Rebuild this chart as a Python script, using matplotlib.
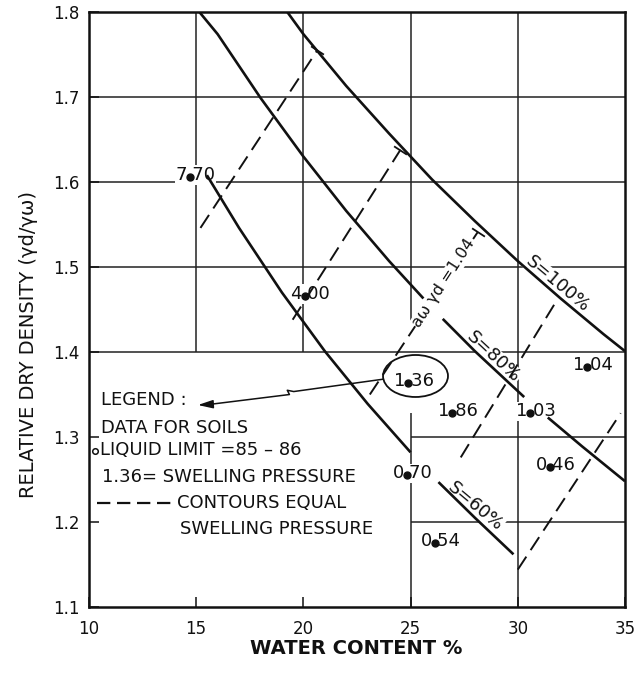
import math
import matplotlib
matplotlib.use('Agg')
import matplotlib.pyplot as plt
from matplotlib.patches import Ellipse

plt.rcParams['font.family'] = ['DejaVu Sans']

# ---------------- data ----------------
x_ticks = [10, 15, 20, 25, 30, 35]
y_ticks = [1.1, 1.2, 1.3, 1.4, 1.5, 1.6, 1.7, 1.8]
y_tick_labels = ['1.1', '1.2', '1.3', '1.4', '1.5', '1.6', '1.7', '1.8']

# saturation curves (water content %, relative dry density)
s100_w = [19.25, 20, 22, 24, 26, 28, 30, 32, 34, 35]
s100_g = [1.800, 1.774, 1.713, 1.657, 1.603, 1.554, 1.507, 1.463, 1.421, 1.401]

s80a_w = [15.15, 16, 18, 20, 22, 24, 25.6]
s80a_g = [1.800, 1.774, 1.699, 1.630, 1.566, 1.507, 1.463]
s80b_w = [26.5, 28, 30.3]
s80b_g = [1.439, 1.401, 1.347]
s80c_w = [31.4, 33, 35]
s80c_g = [1.323, 1.289, 1.248]

s60a_w = [15.5, 17, 19, 21, 23, 25]
s60a_g = [1.608, 1.546, 1.470, 1.401, 1.339, 1.282]
s60b_w = [26.3, 28, 29.8]
s60b_g = [1.247, 1.205, 1.162]

# contours of equal swelling pressure (dashed)
c1_w = [15.2, 20.65];  c1_g = [1.546, 1.755]
c2_w = [19.5, 24.53];  c2_g = [1.438, 1.638]
c3_w = [23.1, 28.13];  c3_g = [1.350, 1.541]
c4_w = [27.34, 31.85]; c4_g = [1.276, 1.462]
c5_w = [30.0, 34.8];   c5_g = [1.144, 1.328]

# measured soils: swelling pressure labels
pt_w = [14.71, 20.07, 24.88, 26.93, 30.57, 33.23, 31.50, 24.83, 26.14]
pt_g = [1.606, 1.466, 1.364, 1.328, 1.328, 1.382, 1.265, 1.255, 1.175]
pt_lbl = ['7.70', '4.00', '1.36', '1.86', '1.03', '1.04', '0.46', '0.70', '0.54']

# grid layout
h_full = [1.4, 1.5, 1.6, 1.7]
h_part = [1.2, 1.3]
v_upper = [15, 20]
v_full = [30]

INK = '#111111'

# ---------------- figure ----------------
fig = plt.figure(figsize=(6.41, 6.75), dpi=100)
ax = fig.add_axes([0.1388, 0.1007, 0.8362, 0.8815])
ax.set_xlim(10, 35)
ax.set_ylim(1.1, 1.8)

gkw = dict(color='#222222', lw=1.1, zorder=1)
ax.hlines(h_full, 10, 35, **gkw)
ax.hlines(h_part, 25, 35, **gkw)
ax.vlines(v_upper, 1.4, 1.8, **gkw)
ax.vlines(v_full, 1.1, 1.8, **gkw)
ax.vlines([25, 25], [1.434, 1.1], [1.8, 1.328], **gkw)

ckw = dict(color=INK, lw=1.9, solid_capstyle='butt', zorder=2)
for w, g in [(s100_w, s100_g), (s80a_w, s80a_g), (s80b_w, s80b_g), (s80c_w, s80c_g),
             (s60a_w, s60a_g), (s60b_w, s60b_g)]:
    ax.plot(w, g, **ckw)

dkw = dict(color=INK, lw=1.4, linestyle=(0, (8, 4)), zorder=1.8)
for w, g in [(c1_w, c1_g), (c2_w, c2_g), (c3_w, c3_g), (c4_w, c4_g), (c5_w, c5_g)]:
    ax.plot(w, g, **dkw)
# short crossbars where the upper contours meet S=100%
for w, g in [(c1_w, c1_g), (c2_w, c2_g), (c3_w, c3_g)]:
    ax.plot([w[-1]], [g[-1]], marker=(2, 0, 57), ms=11, mew=1.3, color=INK,
            linestyle='none', zorder=2)

# points with labels (dot sits at the decimal point)
fs_pt = 13
em = fs_pt * 100 / 72
for w, g, s in zip(pt_w, pt_g, pt_lbl):
    ax.plot([w], [g], 'o', color=INK, ms=5, zorder=5)
    dx = -(0.636 * em + 0.318 * em / 2)
    ax.annotate(s, xy=(w, g), xytext=(dx, -3), textcoords='offset pixels',
                ha='left', va='baseline', fontsize=fs_pt, color=INK, zorder=1.5,
                bbox=dict(fc='white', ec='none', pad=0.5))

# ellipse around 1.36
ax.add_patch(Ellipse((25.23, 1.3718), 3.03, 0.0494, fill=False, ec=INK,
                     lw=1.3, zorder=3))

# arrow from ellipse to legend
ax.plot([23.71, 19.55, 19.25, 19.35, 15.6], [1.368, 1.3535, 1.355, 1.350, 1.3383],
        color=INK, lw=1.1, zorder=3)
ax.annotate('', xy=(14.95, 1.3375), xytext=(15.7, 1.3385),
            arrowprops=dict(arrowstyle='-|>,head_length=0.9,head_width=0.25',
                            color=INK, lw=1.1), zorder=3)


# curve labels: baseline sits just above the curve
def curve_label(txt, w, g, rot, off=3.5, fs=13):
    a = math.radians(rot)
    ox, oy = -math.sin(a) * off, math.cos(a) * off
    ax.annotate(txt, xy=(w, g), xytext=(ox, oy), textcoords='offset pixels',
                rotation=rot, rotation_mode='anchor', ha='center', va='baseline',
                fontsize=fs, color=INK, zorder=1.5,
                bbox=dict(fc='white', ec='none', pad=0.2))


curve_label('S=100%', 31.6, 1.472, -40)
curve_label('S=80%', 28.61, 1.3867, -43)
curve_label('S=60%', 27.77, 1.2107, -40)
ax.text(26.56, 1.481, 'aω γd =1.04', rotation=57, fontsize=11.5, ha='center',
        va='center', rotation_mode='anchor', color=INK, zorder=1.9,
        bbox=dict(fc='white', ec='none', pad=0.5))

# legend block
lkw = dict(ha='left', va='center', fontsize=13, color=INK, zorder=4)
ax.text(10.56, 1.3435, 'LEGEND :', **lkw)
ax.text(10.56, 1.311, 'DATA FOR SOILS', **lkw)
ax.plot([10.28], [1.2835], 'o', mfc='white', mec=INK, ms=4, mew=1.1, zorder=4)
ax.text(10.52, 1.2847, 'LIQUID LIMIT =85 – 86', **lkw)
ax.text(10.62, 1.253, '1.36= SWELLING PRESSURE', **lkw)
ax.plot([10.37, 13.87], [1.2224, 1.2224], color=INK, lw=1.6,
        linestyle=(0, (6, 3)), zorder=4)
ax.text(14.1, 1.2224, 'CONTOURS EQUAL', **lkw)
ax.text(14.24, 1.192, 'SWELLING PRESSURE', **lkw)

# axes styling
for sp in ax.spines.values():
    sp.set_linewidth(1.8)
    sp.set_color(INK)
ax.set_xticks(x_ticks)
ax.set_xticklabels([str(v) for v in x_ticks])
ax.set_yticks(y_ticks)
ax.set_yticklabels(y_tick_labels)
ax.tick_params(direction='in', length=7, width=1.1, labelsize=12, color=INK,
               labelcolor=INK)
ax.tick_params(axis='x', pad=9)
ax.tick_params(axis='y', pad=7)

fig.text(356 / 641, 1 - 648 / 675, 'WATER CONTENT %', ha='center', va='center',
         fontsize=14, fontweight='bold', color=INK)
fig.text(29 / 641, 1 - 345 / 675, 'RELATIVE DRY DENSITY (γd/γω)', ha='center',
         va='center', rotation=90, fontsize=14, color=INK)

fig.savefig('out.png', dpi=100)
